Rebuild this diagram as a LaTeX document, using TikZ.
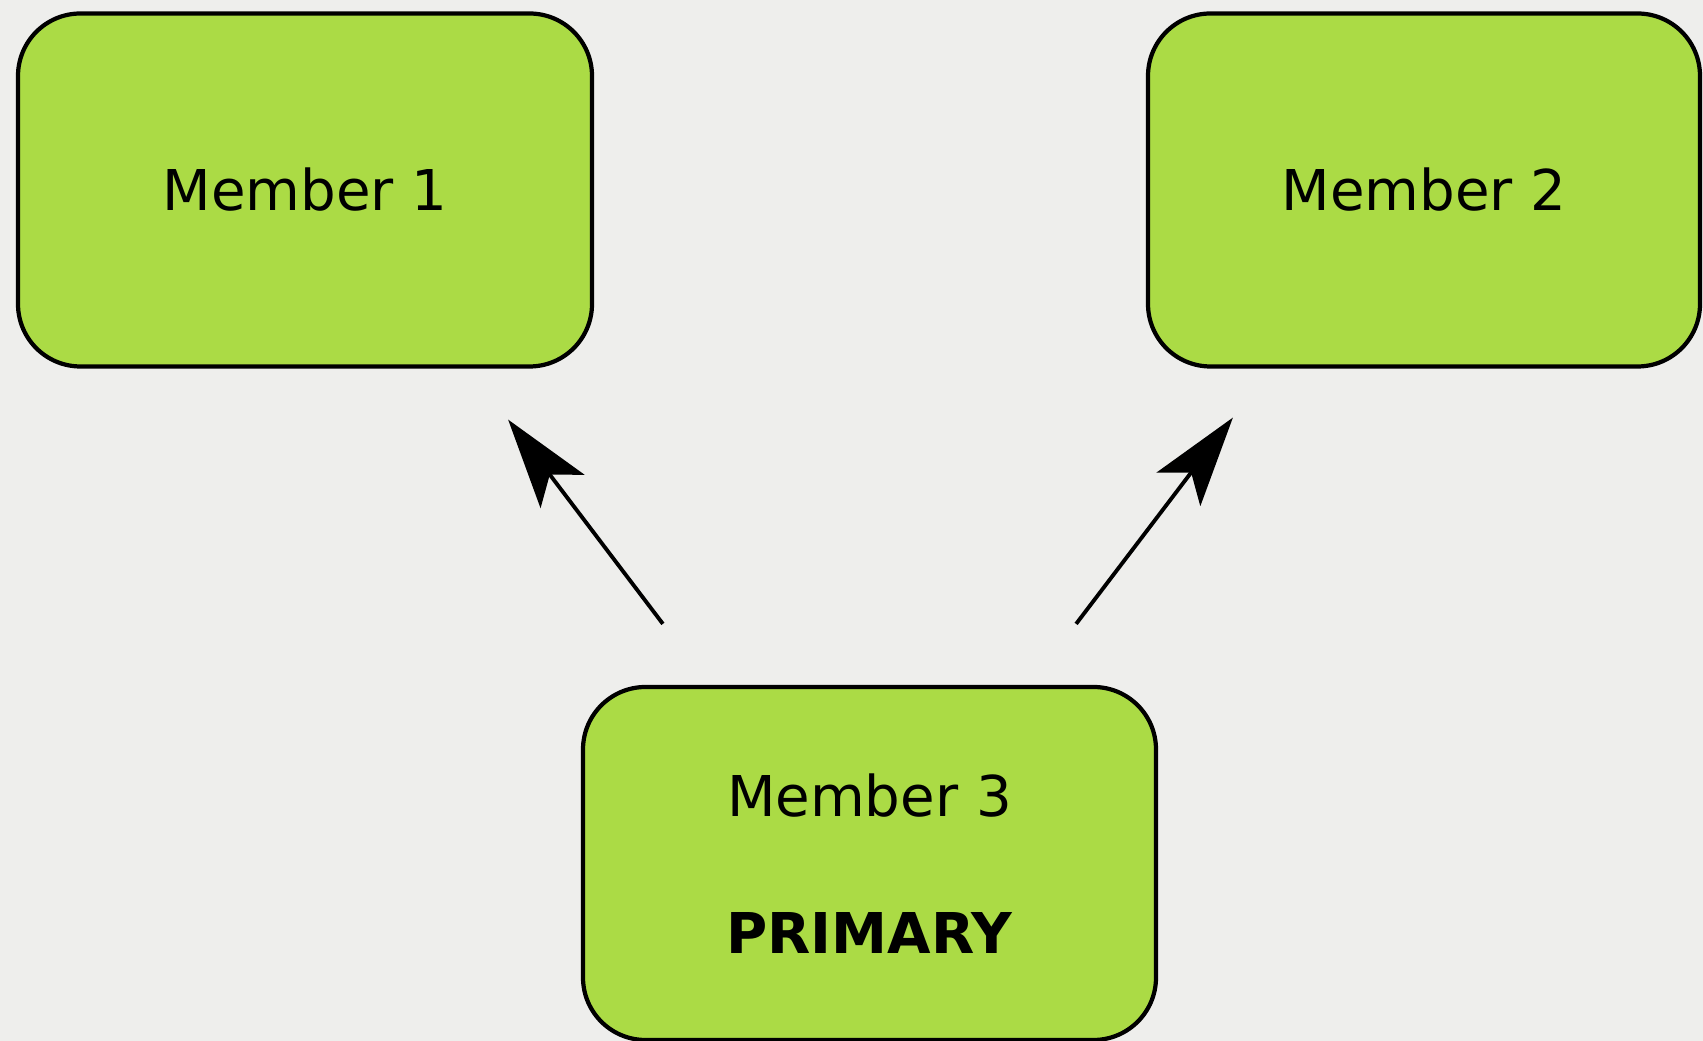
\documentclass[tikz,border=0pt]{standalone}
\usepackage{fontspec}
\setmainfont{DejaVu Sans}
\usepackage{xcolor}
\usepackage{tikz}
\usetikzlibrary{positioning, calc, arrows.meta}

\definecolor{memberGreen}{RGB}{171,219,69}
\definecolor{paperGray}{RGB}{238,238,236}

\begin{document}
\begin{tikzpicture}[
					MemberNode/.style={rectangle, rounded corners=1.25cm, draw=black, fill=memberGreen, line width=2.4pt, minimum height=7.06cm, font=\fontsize{32}{78}\selectfont, align=center, inner sep=0pt},
					VoteArrow/.style={line width=2.2pt, -{Stealth[length=1.8cm, width=1.1cm, inset=0.42cm]}}]

				% Background
				\fill[paperGray] (0,0) rectangle (34.06,20.82);
				\useasboundingbox (0,0) rectangle (34.06,20.82);

				% Nodes
				\node[MemberNode, minimum width=11.48cm] (MemberOne) at (6.10,17.02) {Member 1};
				\node[MemberNode, minimum width=11.04cm] (MemberTwo) at (28.48,17.02) {Member 2};
				\node[MemberNode, minimum width=11.46cm] (MemberThree) at (17.39,3.55) {Member 3\\\textbf{PRIMARY}};

				% Arrow ends
				\coordinate (LeftTail) at ($(MemberThree.north west)+(1.64,1.22)$);
				\coordinate (LeftTip) at ($(MemberOne.south east)+(-1.72,-1.02)$);
				\coordinate (RightTail) at ($(MemberThree.north east)+(-1.64,1.22)$);
				\coordinate (RightTip) at ($(MemberTwo.south west)+(1.74,-0.98)$);

				% Lines
				\draw[VoteArrow] (LeftTail) to (LeftTip);
				\draw[VoteArrow] (RightTail) to (RightTip);
			\end{tikzpicture}
\end{document}
